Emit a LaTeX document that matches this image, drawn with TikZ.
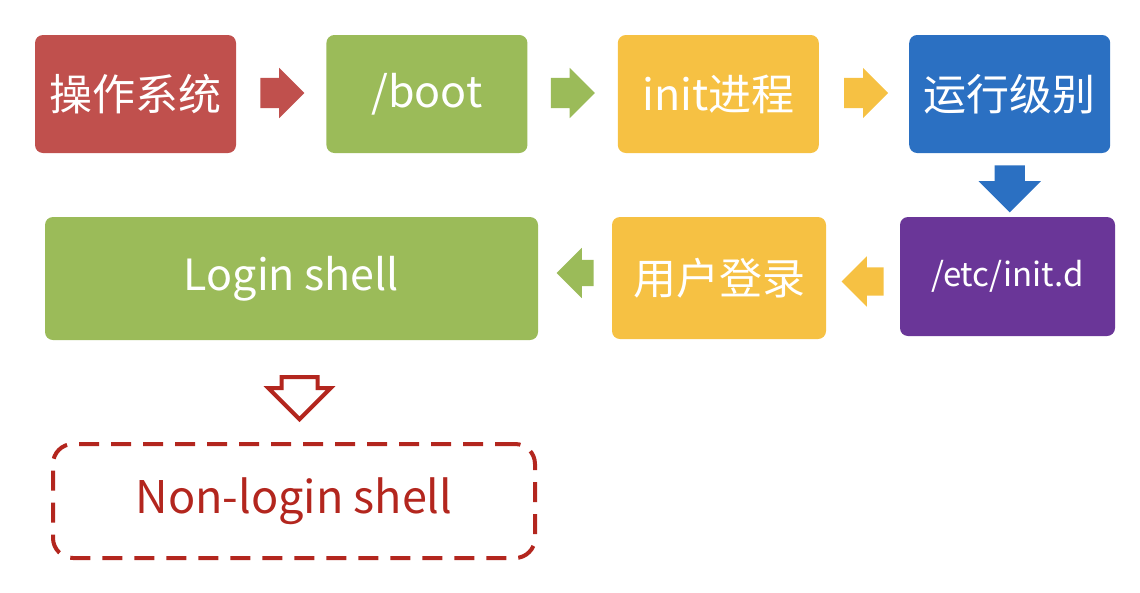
\documentclass[tikz,border=0pt]{standalone}
\usepackage{fontspec}
\setmainfont{Noto Sans CJK SC}
\usetikzlibrary{shapes.arrows, calc, positioning}
\definecolor{osred}{HTML}{C0504D}
\definecolor{bootgreen}{HTML}{9BBB59}
\definecolor{inityellow}{HTML}{F6C143}
\definecolor{runblue}{HTML}{2B70C2}
\definecolor{etcpurple}{HTML}{6A3698}
\definecolor{dashred}{HTML}{B3261E}
\tikzset{
  box/.style={rounded corners=8pt, minimum width=201pt, minimum height=118pt,
    inner sep=0pt, text=white, font=\fontsize{43}{50}\selectfont},
  blk/.style={single arrow, draw=none, anchor=tail, inner xsep=0pt, inner ysep=15pt,
    single arrow head indent=0pt, minimum height=44pt, minimum width=50pt,
    single arrow head extend=10pt},
  blkdown/.style={blk, shape border rotate=270, inner xsep=15pt, inner ysep=0pt}
}

\begin{document}
\begin{tikzpicture}[x=1pt, y=-1pt]
  \useasboundingbox (0,0) rectangle (1140,592);
  % top row
  \node[box, fill=osred] (os) at (135.5,94) {操作系统};
  \node[box, fill=bootgreen, right=90pt of os] (boot) {/boot};
  \node[box, fill=inityellow, right=90pt of boot] (init) {init进程};
  \node[box, fill=runblue, right=90pt of init] (run) {运行级别};
  % second row
  \node[box, fill=etcpurple, minimum width=215pt, minimum height=119pt,
    font=\fontsize{33}{40}\selectfont] (etc) at (1007.5,276.5) {/etc/init.d};
  \node[box, fill=inityellow, minimum width=214pt, minimum height=122pt] (user) at (719,278) {用户登录};
  \node[box, fill=bootgreen, minimum width=493pt, minimum height=123pt] (login) at (291.5,278.5) {Login shell};
  \node[box, draw=dashred, line width=4pt, dash pattern=on 20pt off 12pt, rounded corners=20pt,
    minimum width=482pt, minimum height=114pt, text=dashred,
    font=\fontsize{45}{52}\selectfont] (nonlogin) at (294,501) {Non-login shell};
  % block arrows
  \node[blk, fill=osred] (a1) at ([xshift=24pt, yshift=1pt]os.east) {};
  \node[blk, fill=bootgreen] (a2) at ([xshift=23pt, yshift=1pt]boot.east) {};
  \node[blk, fill=inityellow] (a3) at ([xshift=25pt, yshift=1pt]init.east) {};
  \node[blkdown, fill=runblue, minimum height=47pt, minimum width=62pt,
    single arrow head extend=16pt] (a4) at ([yshift=-12pt]run.south) {};
  \node[blk, fill=inityellow, shape border rotate=180, minimum height=42pt, inner ysep=14pt,
    single arrow head extend=11pt] (a5) at ([xshift=-16pt, yshift=-5pt]etc.west) {};
  \node[blk, fill=bootgreen, shape border rotate=180, minimum height=37pt, inner ysep=13pt,
    single arrow head extend=12pt] (a6) at ([xshift=-18pt, yshift=5pt]user.west) {};
  \node[blkdown, draw=dashred, fill=white, line width=4pt, minimum height=42pt,
    minimum width=58pt, inner xsep=16pt, single arrow head extend=13pt]
    (a7) at ([xshift=8pt, yshift=-35pt]login.south) {};
\end{tikzpicture}
\end{document}
